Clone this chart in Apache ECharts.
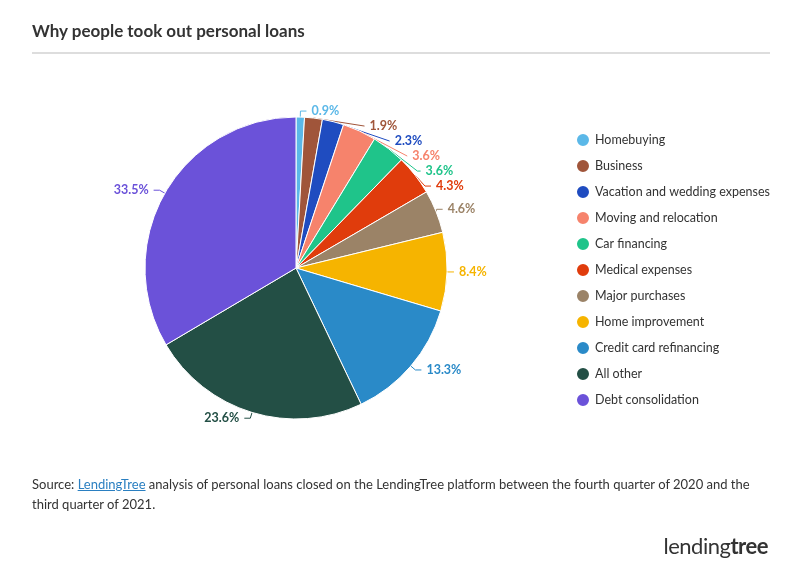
<!DOCTYPE html>
<html><head><meta charset="utf-8">
<script src="https://cdn.jsdelivr.net/npm/echarts@6/dist/echarts.min.js"></script>
<style>body{margin:0;background:#fff;font-family:Lato,"Open Sans",sans-serif}
#t{position:absolute;left:32px;top:20px;font-size:17px;font-weight:bold;color:#333}
#hr{position:absolute;left:32px;top:52px;width:738px;height:2px;background:#ddd}
#s{position:absolute;left:32px;top:474px;width:740px;font-size:13px;line-height:20px;color:#333}
#s a{color:#2a7fc1}
#logo{position:absolute;right:32px;top:532px;font-size:22px;color:#333;letter-spacing:-0.5px}
#c{position:absolute;left:0;top:0;width:800px;height:572px}</style></head>
<body><div id="c"></div><div id="t">Why people took out personal loans</div><div id="hr"></div>
<div id="s">Source: <a href="#">LendingTree</a> analysis of personal loans closed on the LendingTree platform between the fourth quarter of 2020 and the third quarter of 2021.</div>
<div id="logo">lending<span style="font-weight:bold">tree</span></div>
<script>
const categories=["Homebuying","Business","Vacation and wedding expenses","Moving and relocation","Car financing","Medical expenses","Major purchases","Home improvement","Credit card refinancing","All other","Debt consolidation"];
const values=[0.9,1.9,2.3,3.6,3.6,4.3,4.6,8.4,13.3,23.6,33.5];
const colors=["#5bb8e8","#a0553a","#1f4cc0","#f6836c","#1fc48a","#e03c0c","#9b8367","#f6b400","#2a8ac8","#234f45","#6b52d9"];
const ch=echarts.init(document.getElementById('c'));
ch.setOption({
 legend:{orient:'vertical',left:570,top:127,itemGap:10,icon:'circle',itemWidth:14,itemHeight:14,
  textStyle:{fontSize:12.5,color:'#333',fontFamily:'Lato'},data:categories},
 series:[{type:'pie',center:[296,268],radius:[0,151],startAngle:90,clockwise:true,
  label:{formatter:p=>p.value+'%',fontWeight:'bold',fontSize:12.5,fontFamily:'Lato'},
  labelLine:{length:6,length2:6},
  itemStyle:{borderColor:'#fff',borderWidth:1},
  data:categories.map((n,i)=>({name:n,value:values[i],itemStyle:{color:colors[i]},label:{color:colors[i]}}))}]
});
</script></body></html>
